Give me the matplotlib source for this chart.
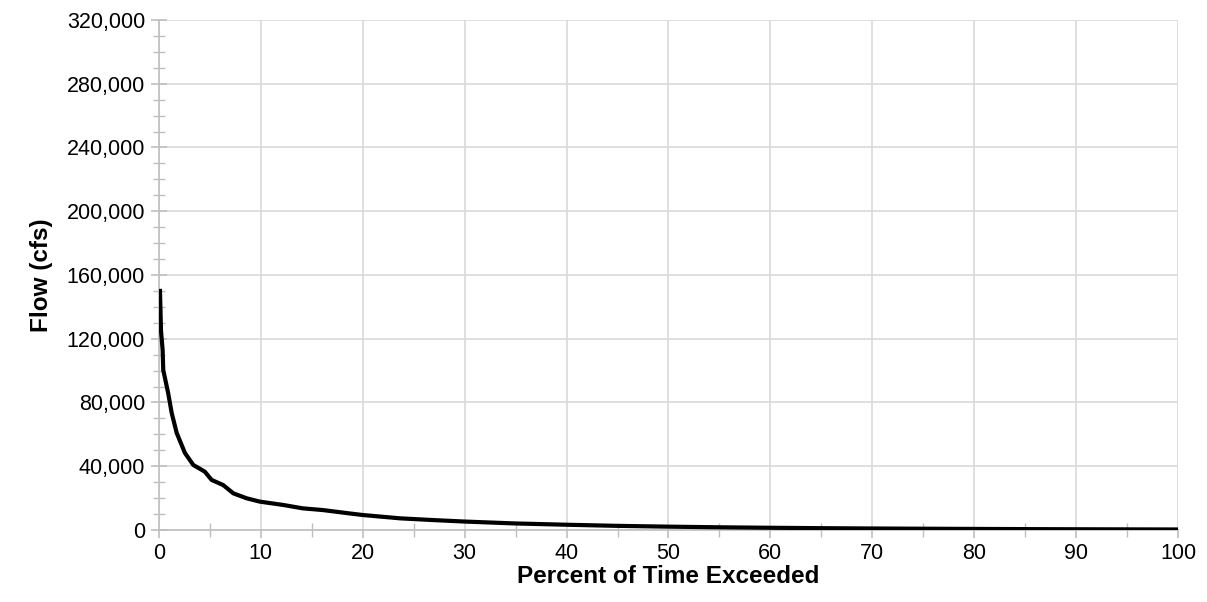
import matplotlib.pyplot as plt
from matplotlib.ticker import MultipleLocator, FuncFormatter

plt.rcParams['font.family'] = ['Liberation Sans', 'DejaVu Sans']

# flow duration curve
pct = [0.1, 0.2, 0.36, 0.42, 0.9, 1.25, 1.74, 2.55, 3.37, 4.5, 5.17, 6.3, 7.3, 8.6, 9.9,
       12.2, 14.1, 16.1, 18.7, 20, 23.7, 27, 30, 35, 40, 45, 50, 55, 60, 65, 70,
       75, 80, 85, 90, 95, 100]
flow = [150000, 125000, 113000, 100400, 86000, 73400, 60900, 48300, 40800, 36600, 31400,
        28200, 23000, 19900, 17800, 15700, 13600, 12500, 10400, 9400, 7300, 6200,
        5300, 4100, 3300, 2600, 2100, 1700, 1400, 1150, 950, 800, 680, 560, 470,
        400, 330]

fig = plt.figure(figsize=(12.07, 6.02), dpi=100)
ax = fig.add_axes([0.1317, 0.1196, 0.8443, 0.8472])

ax.plot(pct, flow, color='black', lw=3, solid_joinstyle='round', zorder=3)

ax.set_xlim(0, 100)
ax.set_ylim(0, 320000)
ax.xaxis.set_major_locator(MultipleLocator(10))
ax.xaxis.set_minor_locator(MultipleLocator(5))
ax.yaxis.set_major_locator(MultipleLocator(40000))
ax.yaxis.set_minor_locator(MultipleLocator(10000))
ax.yaxis.set_major_formatter(FuncFormatter(lambda v, p: f"{int(v):,}"))

ax.grid(True, which='major', color='#d9d9d9', lw=1.2)
ax.set_axisbelow(True)
for s in ['top', 'right']:
    ax.spines[s].set_visible(False)
for s in ['left', 'bottom']:
    ax.spines[s].set_color('#bfbfbf')
    ax.spines[s].set_linewidth(1.2)

ax.tick_params(which='major', axis='y', direction='inout', length=12, color='#bfbfbf', width=1.2, pad=4)
ax.tick_params(which='minor', axis='y', direction='inout', length=9, color='#bfbfbf', width=1)
ax.tick_params(which='major', axis='x', direction='out', length=6, color='#bfbfbf', width=1.2, pad=3)
ax.tick_params(which='minor', axis='x', direction='inout', length=10, color='#bfbfbf', width=1)
ax.tick_params(labelsize=15.5, labelcolor='black')

ax.set_xlabel('Percent of Time Exceeded', fontsize=17.5, fontweight='bold', labelpad=1)
ax.set_ylabel('Flow (cfs)', fontsize=17.5, fontweight='bold', labelpad=10)

fig.savefig('out.png', dpi=100)
